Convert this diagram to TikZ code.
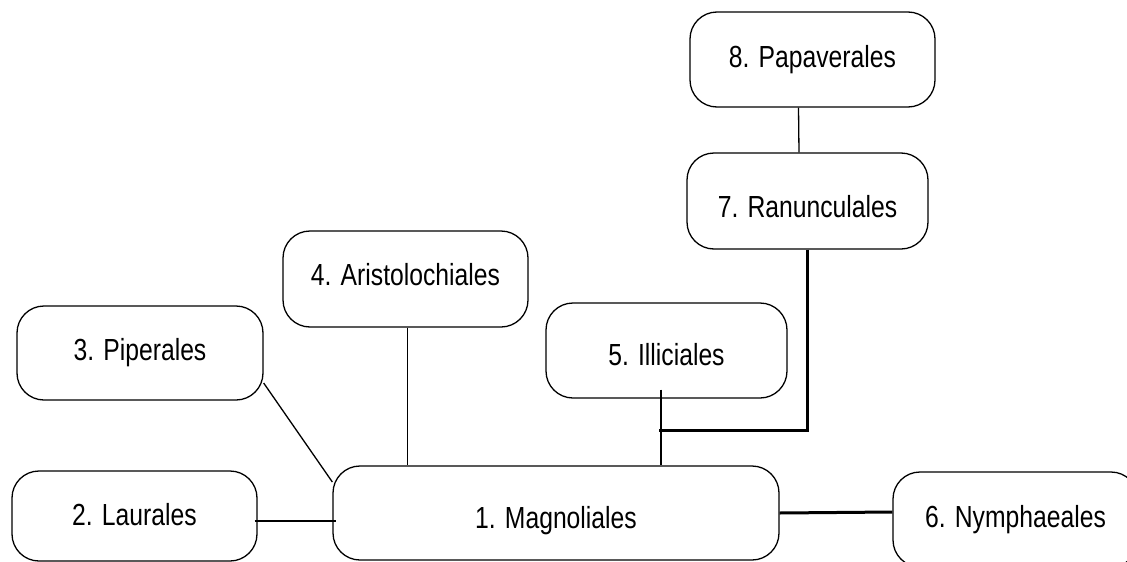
\documentclass[tikz,border=0pt]{standalone}
\usepackage{fontspec}
\setmainfont{Liberation Sans}[FakeStretch=0.81]
\usetikzlibrary{calc}
\tikzset{
  box/.style={draw=black, line width=1.3pt, rounded corners=27pt, fill=white,
    inner sep=0pt, minimum width=245pt, minimum height=95pt,
    text depth=0pt, text height=21.8pt,
    font=\fontsize{30.5}{36}\selectfont},
  thin/.style={draw=black, line width=1.3pt},
  heavy/.style={draw=black, line width=3pt},
}
\begin{document}
\begin{tikzpicture}[x=1pt, y=-1pt]
\useasboundingbox (0,0) rectangle (1127,562);
\fill[white] (0,0) rectangle (1127,562);
\node[box, text height=16.8pt] (b8) at (812.5,59.5) {8. Papaverales};
\node[box, text height=33.8pt, minimum width=241pt, minimum height=96pt] (b7) at (807.5,201) {7. Ranunculales};
\node[box, text height=13.8pt, minimum height=96pt] (b4) at (405.5,279) {4. Aristolochiales};
\node[box, text height=15.8pt, minimum width=246pt, minimum height=94pt] (b3) at (140,353) {3. Piperales};
\node[box, text height=30.8pt, minimum width=241pt] (b5) at (666.5,350.5) {5. Illiciales};
\node[box, text height=31.8pt, minimum width=446pt, minimum height=94pt] (b1) at (556,513) {1. Magnoliales};
\node[box, text height=19.8pt, minimum height=90pt] (b2) at (134.5,516) {2. Laurales};
\node[box, text height=16.8pt] (b6) at (1015.5,519.5) {6. Nymphaeales};
\coordinate (j5) at (659,430);
\draw[thin] ($(b8.south)+(-14,0)$) -- ($(b7.north)+(-8.5,0)$);
\draw[heavy] (b7.south) |- (j5);
\draw[thin] ($(b5.south)+(-5.5,-9)$) -- ($(b1.north)+(105,0)$);
\draw[thin] ($(b4.south)+(2,0)$) -- ($(b1.north)+(-148.5,0)$);
\draw[thin] ($(b3.east)+(0,30)$) -- ($(b1.west)+(0,-31)$);
\draw[thin] ($(b2.east)+(-3,5)$) -- ($(b1.west)+(4,8)$);
\draw[heavy] (b1.east) -- ($(b6.west)+(0,-7.5)$);
\end{tikzpicture}
\end{document}
